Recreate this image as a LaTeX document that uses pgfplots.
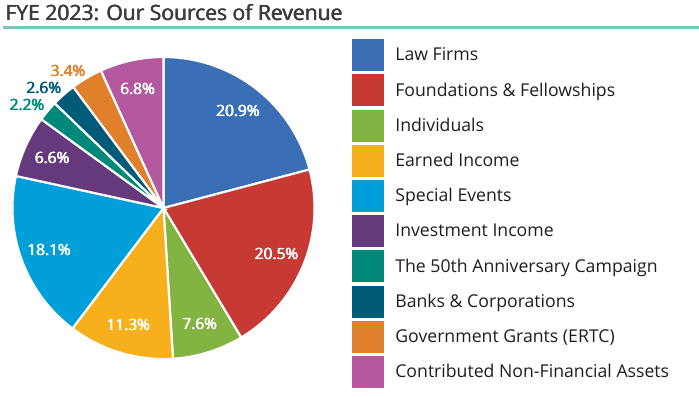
\documentclass[border=0pt]{standalone}
\usepackage{pgfplots}
\usepackage{pgfplotstable}
\pgfplotsset{compat=1.18}
\usepackage{fontspec}
\setmainfont{Open Sans}
\newcommand\fb[2][0.45pt]{\leavevmode\rlap{#2}\rlap{\kern0.5\dimexpr#1\relax#2}\kern#1\relax#2}
\definecolor{lawc}{HTML}{3A6FB6}
\definecolor{founc}{HTML}{C63A33}
\definecolor{indc}{HTML}{83B341}
\definecolor{earnc}{HTML}{F7AF1B}
\definecolor{specc}{HTML}{009FDA}
\definecolor{invc}{HTML}{653A7C}
\definecolor{annc}{HTML}{00897A}
\definecolor{bankc}{HTML}{005B79}
\definecolor{govc}{HTML}{E0802A}
\definecolor{contc}{HTML}{B4589F}
\definecolor{titlec}{HTML}{3C3C3C}
\definecolor{rulec}{HTML}{7CC4BB}
\definecolor{legtext}{HTML}{1E1E1E}

\pgfplotstableread[col sep=semicolon]{
value;col;label
20.9;lawc;Law Firms
20.5;founc;Foundations \& Fellowships
7.6;indc;Individuals
11.3;earnc;Earned Income
18.1;specc;Special Events
6.6;invc;Investment Income
2.2;annc;The 50th Anniversary Campaign
2.6;bankc;Banks \& Corporations
3.4;govc;Government Grants (ERTC)
6.8;contc;Contributed Non-Financial Assets
}\pietable

\tikzset{
  inlab/.style={font=\fontsize{11.6}{13}\selectfont, text=white, anchor=center, inner sep=0pt},
  outlab/.style={font=\fontsize{11.6}{13}\selectfont, anchor=east, inner sep=0pt}
}

\begin{document}
\begin{tikzpicture}[x=0.75pt,y=0.75pt]
\begin{axis}[
  hide axis,
  x=0.75pt, y=0.75pt,
  xmin=-155, xmax=155, ymin=-155, ymax=155,
  anchor=center, at={(163.5,188)},
  clip=false,
  legend cell align=left,
  legend image code/.code={\path[#1,draw=none] (0pt,-12pt) rectangle (24pt,12pt);},
  legend style={at={(axis cs:188.5,169)}, anchor=north west, draw=none, fill=none,
    inner sep=0pt, row sep=2.4pt, column sep=0pt,
    font=\fontsize{13.25}{15}\selectfont, text=legtext,
    nodes={inner xsep=8.3pt}},
]
\def\cum{0}
\pgfplotsforeachungrouped \i in {0,...,9}{%
  \pgfplotstablegetelem{\i}{value}\of\pietable \let\v=\pgfplotsretval
  \pgfplotstablegetelem{\i}{col}\of\pietable \let\c=\pgfplotsretval
  \pgfplotstablegetelem{\i}{label}\of\pietable \let\l=\pgfplotsretval
  \pgfmathsetmacro\a{90-3.6*\cum}
  \pgfmathsetmacro\cumnew{\cum+\v}
  \pgfmathsetmacro\b{90-3.6*\cumnew}
  \pgfmathsetmacro\m{(\a+\b)/2}
  \pgfmathparse{\v<5 ? 1 : 0}
  \ifdim\pgfmathresult pt>0.5pt
    \pgfmathsetmacro\lx{157*cos(\m-1)}
    \pgfmathsetmacro\ly{157*sin(\m-1)}
    \edef\lab{\noexpand\node[outlab, text=\c] at (axis cs:\lx,\ly) {\noexpand\fb[0.55pt]{\v\noexpand\%}};}
  \else
    \pgfmathsetmacro\lx{122*cos(\m)}
    \pgfmathsetmacro\ly{122*sin(\m)}
    \edef\lab{\noexpand\node[inlab] at (axis cs:\lx,\ly) {\noexpand\fb[0.55pt]{\v\noexpand\%}};}
  \fi
  \edef\temp{\noexpand\addplot[fill=\c, draw=white, line width=1.6pt, domain=\b:\a, samples=60]
     ({151*cos(x)},{151*sin(x)}) -- (axis cs:0,0) -- cycle;
     \noexpand\addlegendentry{\l}
     \unexpanded\expandafter{\lab}}%
  \temp
  \let\cum=\cumnew
}
\end{axis}
\node[anchor=base west, inner sep=0pt, text=titlec, font=\fontsize{15.8}{18}\selectfont] at (5,375) {\fb[0.45pt]{FYE 2023: Our Sources of Revenue}};
\draw[rulec, line width=1.7pt] (3,368.5) -- (699,368.5);
\pgfresetboundingbox
\path[use as bounding box] (0,0) rectangle (699,396);
\end{tikzpicture}
\end{document}
